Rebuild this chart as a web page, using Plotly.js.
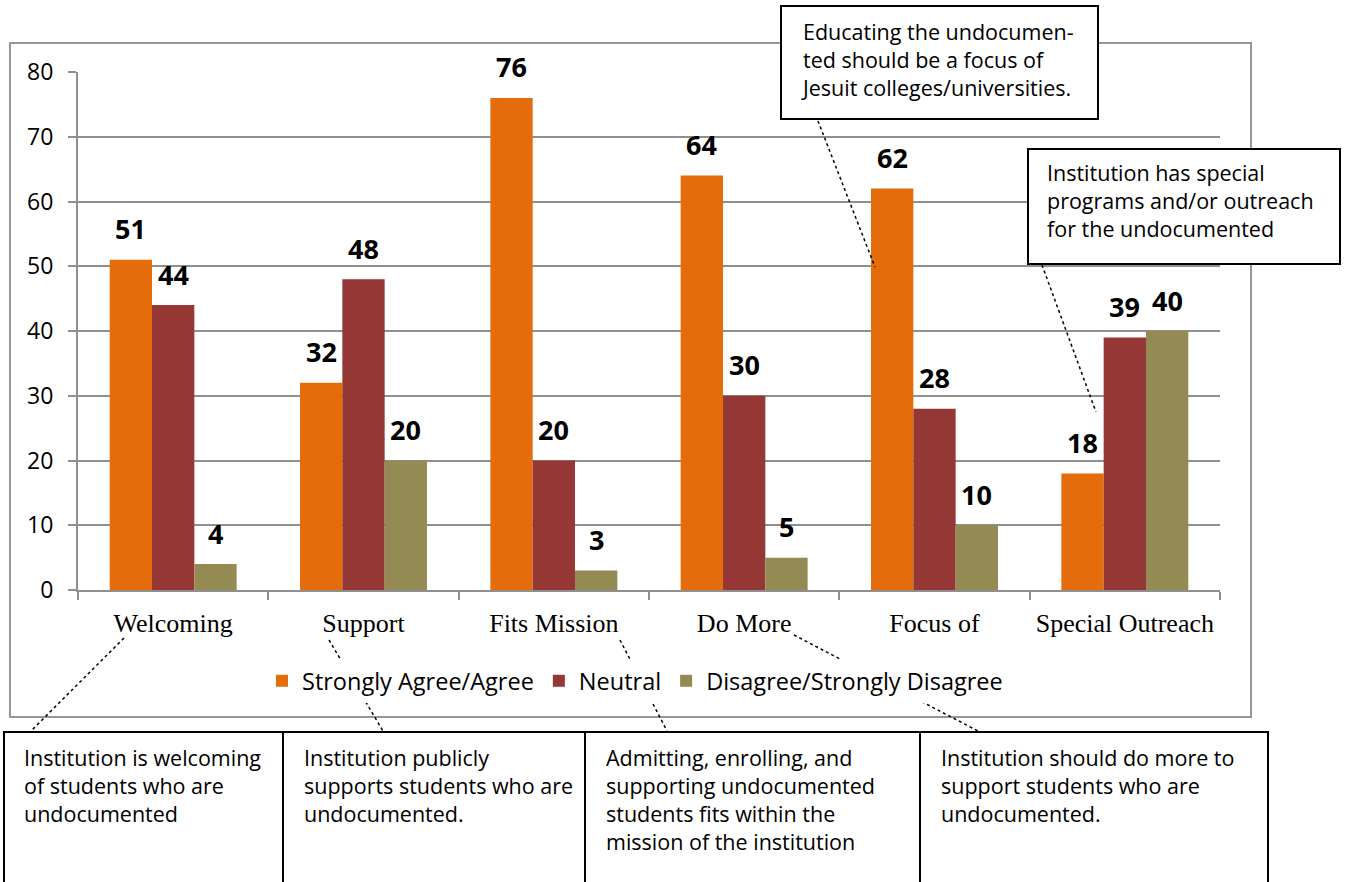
<!DOCTYPE html>
<html>
<head>
<meta charset="utf-8">
<script src="https://cdn.plot.ly/plotly-3.0.1.min.js"></script>
<style>html,body{margin:0;padding:0;background:#fff;}#chart{width:1346px;height:882px;}</style>
</head>
<body>
<div id="chart"></div>
<script>
const categories = ["Welcoming", "Support", "Fits Mission", "Do More", "Focus of", "Special Outreach"];
const seriesNames = ["Strongly Agree/Agree", "Neutral", "Disagree/Strongly Disagree"];
const agreeValues = [51, 32, 76, 64, 62, 18];
const neutralValues = [44, 48, 20, 30, 28, 39];
const disagreeValues = [4, 20, 3, 5, 10, 40];
const yTickValues = [0, 10, 20, 30, 40, 50, 60, 70, 80];
const bottomNotes = [
  "Institution is welcoming<br>of students who are<br>undocumented",
  "Institution publicly<br>supports students who are<br>undocumented.",
  "Admitting, enrolling, and<br>supporting undocumented<br>students fits within the<br>mission of the institution",
  "Institution should do more to<br>support students who are<br>undocumented."
];
const topNotes = [
  "Educating the undocumen-<br>ted should be a focus of<br>Jesuit colleges/universities.",
  "Institution has special<br>programs and/or outreach<br>for the undocumented"
];

const W = 1346, H = 882;
const px = x => x / W;
const py = y => 1 - y / H;
const colors = ["#E46C0A", "#953735", "#948A54"];
const sansFont = "'Open Sans', 'Noto Sans', sans-serif";
const serifFont = "'Liberation Serif', 'Times New Roman', serif";

const allSeries = [agreeValues, neutralValues, disagreeValues];
const traces = allSeries.map((vals, i) => ({
  type: "bar",
  name: seriesNames[i],
  x: categories,
  y: vals,
  marker: {color: colors[i]},
  hoverinfo: "x+y+name"
}));

const bargap = 0.333;
const barW = (1 - bargap) / 3;
const annotations = [];
allSeries.forEach((vals, s) => {
  vals.forEach((v, c) => {
    annotations.push({
      xref: "x", yref: "y",
      x: c + (s - 1) * barW, y: v,
      text: "<b>" + v + "</b>",
      showarrow: false,
      yanchor: "middle", yshift: 31,
      font: {family: sansFont, size: 27, color: "#000"}
    });
  });
});

// note boxes text
const noteSize = 21.5;
const bottomX = [22, 302, 604, 939];
bottomNotes.forEach((t, i) => {
  annotations.push({
    xref: "paper", yref: "paper", x: px(bottomX[i]), y: py(741),
    xanchor: "left", yanchor: "top", align: "left",
    text: t, showarrow: false,
    font: {family: sansFont, size: noteSize, color: "#000"}
  });
});
const topPos = [[799, 15], [1045, 156]];
topNotes.forEach((t, i) => {
  annotations.push({
    xref: "paper", yref: "paper", x: px(topPos[i][0]), y: py(topPos[i][1]),
    xanchor: "left", yanchor: "top", align: "left",
    text: t, showarrow: false,
    font: {family: sansFont, size: noteSize, color: "#000"}
  });
});

const shapes = [];
// outer chart border
shapes.push({type: "rect", xref: "paper", yref: "paper", x0: px(10), x1: px(1251), y0: py(43), y1: py(717),
  line: {color: "#969696", width: 2}, fillcolor: "rgba(0,0,0,0)", layer: "below"});
// leader lines
const leaders = [
  [124, 638, 31, 731], [329, 640, 383, 731], [620, 640, 667, 731],
  [794, 635, 978, 731], [818, 121, 875, 267], [1042, 265, 1096, 412]
];
leaders.forEach(l => shapes.push({type: "line", xref: "paper", yref: "paper",
  x0: px(l[0]), y0: py(l[1]), x1: px(l[2]), y1: py(l[3]),
  line: {color: "#000", width: 1.5, dash: "dot"}, layer: "above"}));
// top callout boxes
shapes.push({type: "rect", xref: "paper", yref: "paper", x0: px(781), x1: px(1098), y0: py(6), y1: py(119),
  line: {color: "#000", width: 2}, fillcolor: "#fff", layer: "above"});
shapes.push({type: "rect", xref: "paper", yref: "paper", x0: px(1028), x1: px(1340), y0: py(149), y1: py(264),
  line: {color: "#000", width: 2}, fillcolor: "#fff", layer: "above"});
// bottom boxes
shapes.push({type: "rect", xref: "paper", yref: "paper", x0: px(4), x1: px(1268), y0: py(732), y1: py(900),
  line: {color: "#000", width: 2}, fillcolor: "#fff", layer: "above"});
[283, 585, 920].forEach(x => shapes.push({type: "line", xref: "paper", yref: "paper",
  x0: px(x), x1: px(x), y0: py(732), y1: py(900), line: {color: "#000", width: 2}, layer: "above"}));

const layout = {
  width: W, height: H,
  margin: {l: 0, r: 0, t: 0, b: 0},
  paper_bgcolor: "#fff", plot_bgcolor: "#fff",
  barmode: "group", bargap: bargap, bargroupgap: 0,
  showlegend: true,
  legend: {orientation: "h", x: px(635), xanchor: "center", y: py(681), yanchor: "middle",
    font: {family: sansFont, size: 23.5, color: "#000"}, traceorder: "normal"},
  xaxis: {
    domain: [px(78), px(1220)],
    type: "category",
    showline: true, linecolor: "#8f8f8f", linewidth: 2,
    ticks: "outside", tickson: "boundaries", ticklen: 8, tickcolor: "#8f8f8f", tickwidth: 2,
    tickfont: {family: serifFont, size: 26, color: "#000"},
    ticklabelstandoff: 9,
    showgrid: false, zeroline: false, fixedrange: true
  },
  yaxis: {
    domain: [py(590), py(72)],
    range: [0, 80], tickvals: yTickValues,
    showline: true, linecolor: "#8f8f8f", linewidth: 2,
    ticks: "outside", ticklen: 8, tickcolor: "#8f8f8f", tickwidth: 2,
    showgrid: true, gridcolor: "#8f8f8f", gridwidth: 2,
    zeroline: false,
    tickfont: {family: sansFont, size: 23, color: "#000"},
    ticklabelstandoff: 10, fixedrange: true
  },
  shapes: shapes,
  annotations: annotations
};

Plotly.newPlot("chart", traces, layout, {displayModeBar: false, staticPlot: true});
</script>
</body>
</html>
